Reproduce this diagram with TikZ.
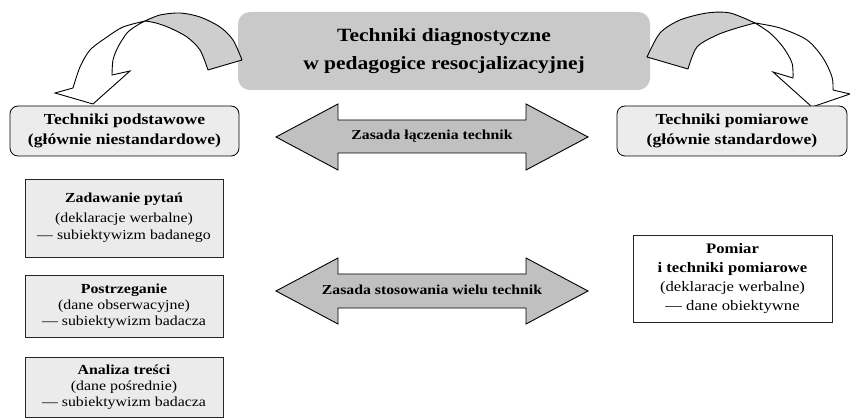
\documentclass[tikz,border=0pt]{standalone}
\usepackage{fontspec}
\setmainfont[FakeStretch=1.15]{Liberation Serif}
\definecolor{titlegray}{RGB}{201,201,201}
\definecolor{arrowgray}{RGB}{192,192,192}
\definecolor{bandgray}{RGB}{206,206,206}
\definecolor{headfill}{RGB}{236,236,236}
\definecolor{boxfill}{RGB}{235,235,235}
\begin{document}
\begin{tikzpicture}[x=1pt,y=-1pt,
  titlebox/.style={fill=titlegray, rounded corners=12pt, minimum width=412pt,
    minimum height=78pt, inner sep=0pt, align=center,
    font=\fontsize{18.7}{28}\selectfont\bfseries},
  headbox/.style={draw=black, line width=0.8pt, fill=headfill, rounded corners=8pt,
    minimum height=50pt, inner sep=0pt, align=center,
    font=\fontsize{15.3}{19.5}\selectfont\bfseries},
  infobox/.style={draw=black!85, line width=0.7pt, fill=boxfill, minimum width=198pt,
    inner sep=0pt, align=center, font=\fontsize{13.8}{16}\selectfont},
  measurebox/.style={draw=black!85, line width=0.7pt, fill=white, minimum width=199pt,
    minimum height=87pt, inner sep=0pt, align=center, font=\fontsize{14.5}{19}\selectfont},
  dblarrow/.style={draw=black, line width=0.9pt, fill=arrowgray, line join=miter},
  arrowlabel/.style={inner sep=0pt, font=\fontsize{13.7}{16}\selectfont\bfseries},
  bandback/.style={draw=black, line width=0.9pt, fill=bandgray, line join=round},
  bandfront/.style={draw=black, line width=0.9pt, fill=white, line join=miter}
]
\useasboundingbox (0,0) rectangle (850,419);

% central title
\node[titlebox] (title) at (444,51) {Techniki diagnostyczne\\w pedagogice resocjalizacyjnej};

% curved arrow to the left group
\coordinate (ml) at (145,21);
\draw[bandback] (242,60) -- (208,70)
  -- plot[smooth] coordinates {(208,70) (200,50) (187,37) (170,28) (156,23) (145,21)}
  -- plot[smooth] coordinates {(145,21) (160,15) (180,13) (200,17) (220,27) (233,40) (242,60)}
  -- cycle;
\draw[bandfront] (ml)
  -- plot[smooth] coordinates {(145,21) (123,27) (107,37) (90,50) (80,67) (73,88)}
  -- (55,93) -- (93,104) -- (130,71) -- (112,75)
  -- plot[smooth] coordinates {(112,75) (113,60) (118,47) (127,33) (136,26) (145,21)}
  -- cycle;

% curved arrow to the right group
\coordinate (mr) at (755,23);
\draw[bandback] (647,57) -- (688,69)
  -- plot[smooth] coordinates {(688,69) (697,47) (717,35) (737,28) (755,23)}
  -- plot[smooth] coordinates {(755,23) (730,13) (707,13) (680,20) (660,33) (647,57)}
  -- cycle;
\draw[bandfront] (mr)
  -- plot[smooth] coordinates {(755,23) (770,33) (783,47) (792,63) (793,78)}
  -- (773,72) -- (812,107) -- (850,94) -- (833,90)
  -- plot[smooth] coordinates {(833,90) (832,77) (823,58) (807,40) (780,28) (755,23)}
  -- cycle;

% group headings
\node[headbox, minimum width=229pt] (basic) at (124.5,131)
  {Techniki podstawowe\\(głównie niestandardowe)};
\node[headbox, minimum width=230pt] (measure) at (732,131)
  {Techniki pomiarowe\\(głównie standardowe)};

% principles
\draw[dblarrow] (276,137) -- (338,104) -- (338,120) -- (526,120) -- (526,104)
  -- (588,137) -- (526,170) -- (526,153) -- (338,153) -- (338,170) -- cycle;
\node[arrowlabel] (combine) at (432,136) {Zasada łączenia technik};

\draw[dblarrow] (276,291) -- (338,258) -- (338,274) -- (526,274) -- (526,258)
  -- (588,291) -- (526,324) -- (526,308) -- (338,308) -- (338,324) -- cycle;
\node[arrowlabel] (many) at (432,290) {Zasada stosowania wielu technik};

% basic techniques
\node[infobox, minimum height=78pt] (questions) at (124,218)
  {\textbf{Zadawanie pytań}\\[4pt](deklaracje werbalne)\\[1pt]— subiektywizm badanego};
\node[infobox, minimum height=62pt] (perception) at (124,306)
  {\textbf{Postrzeganie}\\(dane obserwacyjne)\\— subiektywizm badacza};
\node[infobox, minimum height=60pt] (content) at (124,387)
  {\textbf{Analiza treści}\\(dane pośrednie)\\— subiektywizm badacza};

% measurement
\node[measurebox] (scaling) at (732.5,278.5)
  {\textbf{Pomiar}\\\textbf{i techniki pomiarowe}\\(deklaracje werbalne)\\— dane obiektywne};
\end{tikzpicture}
\end{document}
